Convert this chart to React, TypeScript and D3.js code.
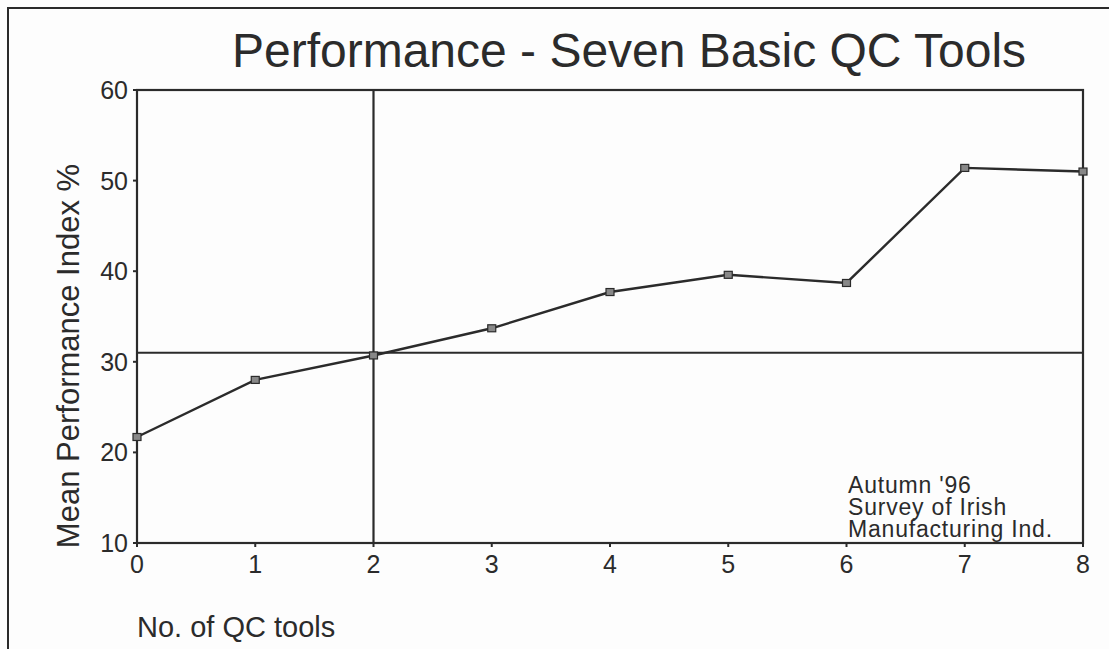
import React from "react";
import * as d3 from "d3";

// Number of QC tools in use and the mean performance index at each count
const toolCounts = [0, 1, 2, 3, 4, 5, 6, 7, 8];
const meanIndex = [21.7, 28.0, 30.7, 33.7, 37.7, 39.6, 38.7, 51.4, 51.0];
const yTicks = [10, 20, 30, 40, 50, 60];
const xTicks = [0, 1, 2, 3, 4, 5, 6, 7, 8];
const overallMean = 31.0;
const markerX = 2;
const noteLines = ["Autumn '96", "Survey of Irish", "Manufacturing Ind."];

const W = 1109;
const H = 649;
const FONT = "'Liberation Sans', Arial, sans-serif";
const INK = "#2b2b2b";

export default function App() {
  const left = 137;
  const right = 1083;
  const top = 90;
  const bottom = 543;

  const x = d3.scaleLinear().domain([0, 8]).range([left, right]);
  const y = d3.scaleLinear().domain([10, 60]).range([bottom, top]);

  const line = d3
    .line<number>()
    .x((_, i) => x(toolCounts[i]))
    .y((d) => y(d));

  return (
    <svg
      width={W}
      height={H}
      style={{ position: "absolute", left: 0, top: 0, background: "#fdfdfd" }}
    >
      {/* page frame */}
      <path d={`M8,${H} L8,8 L${W},8`} fill="none" stroke={INK} strokeWidth={2} />

      <text
        x={629}
        y={67}
        textAnchor="middle"
        fontFamily={FONT}
        fontSize={48}
        fill={INK}
      >
        Performance - Seven Basic QC Tools
      </text>

      {/* plot box */}
      <rect
        x={left}
        y={top}
        width={right - left}
        height={bottom - top}
        fill="none"
        stroke={INK}
        strokeWidth={2.2}
      />

      {/* reference lines */}
      <line
        x1={left}
        x2={right}
        y1={y(overallMean)}
        y2={y(overallMean)}
        stroke={INK}
        strokeWidth={2.2}
      />
      <line
        x1={x(markerX)}
        x2={x(markerX)}
        y1={top}
        y2={bottom}
        stroke={INK}
        strokeWidth={2.2}
      />

      {/* y ticks */}
      {yTicks.map((t) => (
        <g key={`y${t}`}>
          <line x1={left - 4} x2={left} y1={y(t)} y2={y(t)} stroke={INK} strokeWidth={2} />
          <text
            x={left - 9}
            y={y(t) + 9}
            textAnchor="end"
            fontFamily={FONT}
            fontSize={25}
            fill={INK}
          >
            {t}
          </text>
        </g>
      ))}

      {/* x ticks */}
      {xTicks.map((t) => (
        <g key={`x${t}`}>
          <line x1={x(t)} x2={x(t)} y1={bottom} y2={bottom + 4} stroke={INK} strokeWidth={2} />
          <text
            x={x(t)}
            y={bottom + 30}
            textAnchor="middle"
            fontFamily={FONT}
            fontSize={25}
            fill={INK}
          >
            {t}
          </text>
        </g>
      ))}

      {/* series */}
      <path d={line(meanIndex) ?? ""} fill="none" stroke={INK} strokeWidth={2.4} />
      {meanIndex.map((v, i) => (
        <rect
          key={`m${i}`}
          x={x(toolCounts[i]) - 4}
          y={y(v) - 3.5}
          width={8}
          height={7}
          fill="#888"
          stroke={INK}
          strokeWidth={1.2}
        />
      ))}

      {/* axis titles */}
      <text
        transform={`translate(79, 356) rotate(-90)`}
        textAnchor="middle"
        fontFamily={FONT}
        fontSize={31}
        fill={INK}
      >
        Mean Performance Index %
      </text>
      <text x={137} y={637} fontFamily={FONT} fontSize={29} fill={INK}>
        No. of QC tools
      </text>

      {/* source note, set tight as one block */}
      <text
        x={848}
        y={493}
        fontFamily={FONT}
        fontSize={23}
        letterSpacing={0.8}
        fill={INK}
      >
        {noteLines.map((s, i) => (
          <tspan key={s} x={848} dy={i === 0 ? 0 : 22}>
            {s}
          </tspan>
        ))}
      </text>
    </svg>
  );
}
